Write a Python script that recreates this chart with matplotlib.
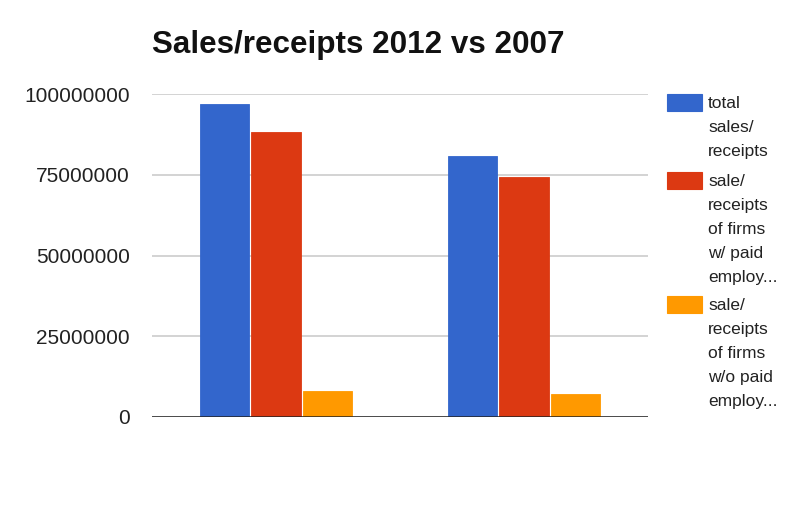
import numpy as np
import matplotlib
matplotlib.use('Agg')
import matplotlib.pyplot as plt
import matplotlib.patches as patches
plt.rcParams['font.family'] = ['Liberation Sans', 'DejaVu Sans']

# data
groups = ['2012', '2007']
series_names = [
    ['total', 'sales/', 'receipts'],
    ['sale/', 'receipts', 'of firms', 'w/ paid', 'employ...'],
    ['sale/', 'receipts', 'of firms', 'w/o paid', 'employ...'],
]
total_sales = [97000000, 81000000]
paid_employees = [88400000, 74400000]
no_paid_employees = [8100000, 7000000]
colors = ['#3366cc', '#dc3912', '#ff9900']
yticks = [0, 25000000, 50000000, 75000000, 100000000]

W, H = 800, 512
fig = plt.figure(figsize=(W / 100, H / 100), dpi=100)
ax = fig.add_axes([152 / W, 1 - 416.7 / H, 496 / W, (416.7 - 94.3) / H])

x = np.arange(len(groups))
bw = 0.2
values = [total_sales, paid_employees, no_paid_employees]
for i, vals in enumerate(values):
    ax.bar(x + (i - 1) * 0.208, vals, width=bw, color=colors[i],
           edgecolor=colors[i], linewidth=0.6, zorder=3)

ax.set_xlim(-0.5, 1.5)
ax.set_ylim(0, 100000000)
ax.set_yticks(yticks)
ax.set_yticklabels([str(v) for v in yticks], fontsize=15, color='#222222')
ax.set_xticks([])
ax.tick_params(axis='y', length=0, pad=16)
ax.grid(axis='y', color='#cccccc', linewidth=1.2, zorder=0)
ax.axhline(0, color='#222222', linewidth=1.8, zorder=4)
for s in ax.spines.values():
    s.set_visible(False)

fig.text(152 / W, 1 - 53 / H, 'Sales/receipts 2012 vs 2007', fontsize=22.6,
         fontweight='bold', color='#111111', ha='left', va='baseline')

# legend
patch_tops = [94, 172, 296]
for i, lines in enumerate(series_names):
    top = patch_tops[i]
    fig.patches.append(patches.Rectangle((667 / W, 1 - (top + 17) / H), 35 / W, 17 / H,
                                         transform=fig.transFigure, facecolor=colors[i],
                                         edgecolor=colors[i], linewidth=0.8))
    for j, line in enumerate(lines):
        yc = top + 9 + j * 24.2
        fig.text(708 / W, 1 - yc / H, line, fontsize=12.5, color='#222222',
                 ha='left', va='center')

fig.savefig('out.png', dpi=100, facecolor='white')
